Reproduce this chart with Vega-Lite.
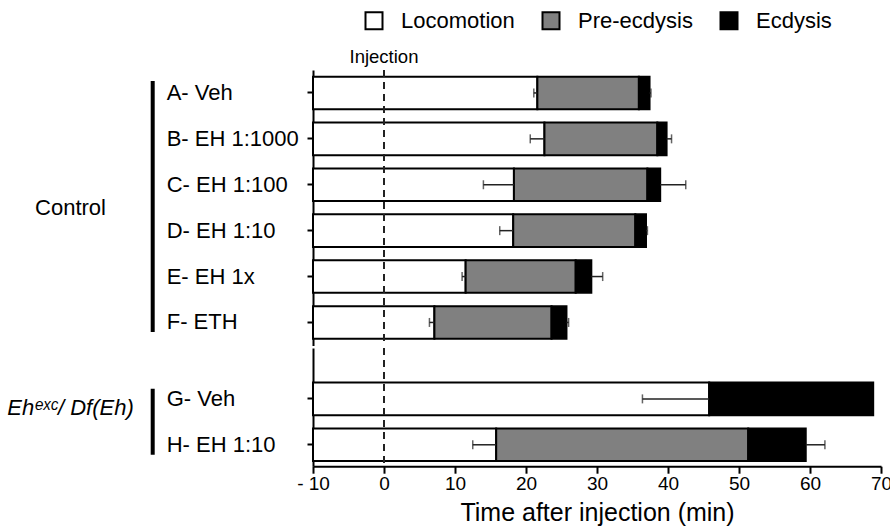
{
  "$schema": "https://vega.github.io/schema/vega-lite/v6.json",
  "background": "white",
  "padding": {"left": 6, "top": 9, "right": 0, "bottom": 0},
  "config": {
    "font": "Liberation Sans",
    "view": {"stroke": null},
    "axis": {"domainColor": "black", "tickColor": "black", "labelColor": "black", "titleColor": "black", "grid": false, "titleFontWeight": "normal"}
  },
  "datasets": {
    "segments": [
      {"group": "Control", "row": "A- Veh", "phase": "Locomotion", "start": -10, "end": 21.6},
      {"group": "Control", "row": "A- Veh", "phase": "Pre-ecdysis", "start": 21.6, "end": 35.9},
      {"group": "Control", "row": "A- Veh", "phase": "Ecdysis", "start": 35.9, "end": 37.4},
      {"group": "Control", "row": "B- EH 1:1000", "phase": "Locomotion", "start": -10, "end": 22.6},
      {"group": "Control", "row": "B- EH 1:1000", "phase": "Pre-ecdysis", "start": 22.6, "end": 38.5},
      {"group": "Control", "row": "B- EH 1:1000", "phase": "Ecdysis", "start": 38.5, "end": 39.8},
      {"group": "Control", "row": "C- EH 1:100", "phase": "Locomotion", "start": -10, "end": 18.3},
      {"group": "Control", "row": "C- EH 1:100", "phase": "Pre-ecdysis", "start": 18.3, "end": 37.1},
      {"group": "Control", "row": "C- EH 1:100", "phase": "Ecdysis", "start": 37.1, "end": 38.9},
      {"group": "Control", "row": "D- EH 1:10", "phase": "Locomotion", "start": -10, "end": 18.2},
      {"group": "Control", "row": "D- EH 1:10", "phase": "Pre-ecdysis", "start": 18.2, "end": 35.4},
      {"group": "Control", "row": "D- EH 1:10", "phase": "Ecdysis", "start": 35.4, "end": 36.9},
      {"group": "Control", "row": "E- EH 1x", "phase": "Locomotion", "start": -10, "end": 11.5},
      {"group": "Control", "row": "E- EH 1x", "phase": "Pre-ecdysis", "start": 11.5, "end": 27.0},
      {"group": "Control", "row": "E- EH 1x", "phase": "Ecdysis", "start": 27.0, "end": 29.2},
      {"group": "Control", "row": "F- ETH", "phase": "Locomotion", "start": -10, "end": 7.1},
      {"group": "Control", "row": "F- ETH", "phase": "Pre-ecdysis", "start": 7.1, "end": 23.6},
      {"group": "Control", "row": "F- ETH", "phase": "Ecdysis", "start": 23.6, "end": 25.7},
      {"group": "Eh", "row": "G- Veh", "phase": "Locomotion", "start": -10, "end": 45.8},
      {"group": "Eh", "row": "G- Veh", "phase": "Ecdysis", "start": 45.8, "end": 68.9},
      {"group": "Eh", "row": "H- EH 1:10", "phase": "Locomotion", "start": -10, "end": 15.8},
      {"group": "Eh", "row": "H- EH 1:10", "phase": "Pre-ecdysis", "start": 15.8, "end": 51.3},
      {"group": "Eh", "row": "H- EH 1:10", "phase": "Ecdysis", "start": 51.3, "end": 59.4}
    ],
    "errors": [
      {"group": "Control", "row": "A- Veh", "mean": 21.6, "tip": 21.1},
      {"group": "Control", "row": "A- Veh", "mean": 37.4, "tip": 37.6},
      {"group": "Control", "row": "B- EH 1:1000", "mean": 22.6, "tip": 20.6},
      {"group": "Control", "row": "B- EH 1:1000", "mean": 39.8, "tip": 40.5},
      {"group": "Control", "row": "C- EH 1:100", "mean": 18.3, "tip": 14.0},
      {"group": "Control", "row": "C- EH 1:100", "mean": 38.9, "tip": 42.5},
      {"group": "Control", "row": "D- EH 1:10", "mean": 18.2, "tip": 16.3},
      {"group": "Control", "row": "D- EH 1:10", "mean": 36.9, "tip": 37.1},
      {"group": "Control", "row": "E- EH 1x", "mean": 11.5, "tip": 11.0},
      {"group": "Control", "row": "E- EH 1x", "mean": 29.2, "tip": 30.8},
      {"group": "Control", "row": "F- ETH", "mean": 7.1, "tip": 6.4},
      {"group": "Control", "row": "F- ETH", "mean": 25.7, "tip": 26.0},
      {"group": "Eh", "row": "G- Veh", "mean": 45.8, "tip": 36.4},
      {"group": "Eh", "row": "H- EH 1:10", "mean": 15.8, "tip": 12.5},
      {"group": "Eh", "row": "H- EH 1:10", "mean": 59.4, "tip": 62.1}
    ]
  },
  "spacing": 0,
  "resolve": {"scale": {"x": "shared", "color": "shared"}},
  "vconcat": [
    {
      "width": 568,
      "height": 275.4,
      "resolve": {"axis": {"y": "independent"}},
      "layer": [
        {
          "data": {"name": "segments"},
          "transform": [{"filter": "datum.group === 'Control'"}],
          "mark": {"type": "bar", "stroke": "black", "strokeWidth": 2},
          "encoding": {
            "y": {"field": "row", "type": "nominal", "sort": ["A- Veh", "B- EH 1:1000", "C- EH 1:100", "D- EH 1:10", "E- EH 1x", "F- ETH"],
              "scale": {"paddingInner": 0.29, "paddingOuter": 0.145},
              "axis": {"title": null, "labelAlign": "left", "labelBaseline": "middle", "labelPadding": 140.8, "labelFontSize": 22, "tickSize": 6, "tickWidth": 2, "domainWidth": 2}},
            "x": {"field": "start", "type": "quantitative", "scale": {"domain": [-10, 70], "nice": false, "zero": false}, "axis": null},
            "x2": {"field": "end"},
            "color": {"field": "phase", "type": "nominal",
              "scale": {"domain": ["Locomotion", "Pre-ecdysis", "Ecdysis"], "range": ["#ffffff", "#808080", "#000000"]},
              "legend": {"orient": "none", "legendX": 50, "legendY": -60.4, "direction": "horizontal", "title": null,
                "symbolType": "square", "symbolSize": 289, "symbolStrokeColor": "black", "symbolStrokeWidth": 2,
                "labelFontSize": 22, "labelOffset": 16, "columnPadding": 23, "labelColor": "black"}}
          }
        },
        {
          "data": {"name": "errors"},
          "transform": [{"filter": "datum.group === 'Control'"}],
          "mark": {"type": "rule", "color": "#222222", "strokeWidth": 1.5},
          "encoding": {
            "y": {"field": "row", "type": "nominal", "axis": null},
            "x": {"field": "mean", "type": "quantitative"},
            "x2": {"field": "tip"}
          }
        },
        {
          "data": {"name": "errors"},
          "transform": [{"filter": "datum.group === 'Control'"}],
          "mark": {"type": "tick", "color": "#222222", "thickness": 1.5, "size": 9},
          "encoding": {
            "y": {"field": "row", "type": "nominal", "axis": null},
            "x": {"field": "tip", "type": "quantitative"}
          }
        },
        {
          "data": {"values": [{}]},
          "mark": {"type": "rule", "strokeDash": [7, 5], "strokeWidth": 2, "color": "#222222"},
          "encoding": {"x": {"datum": 0, "type": "quantitative"}}
        },
        {
          "data": {"values": [{"label": "Injection"}]},
          "mark": {"type": "text", "fontSize": 18.5, "align": "center", "baseline": "middle", "dy": -36, "color": "black"},
          "encoding": {
            "x": {"datum": 0, "type": "quantitative"},
            "y": {"datum": "A- Veh", "type": "nominal", "axis": null},
            "text": {"field": "label"}
          }
        },
        {
          "data": {"name": "segments"},
          "transform": [{"filter": "datum.group === 'Control'"}],
          "mark": {"type": "point", "opacity": 0},
          "encoding": {
            "y": {"field": "row", "type": "nominal",
              "axis": {"orient": "left", "offset": 160.8, "ticks": false, "labels": false, "domainWidth": 4, "domainDash": [0, 10.6, 251, 1000],
                "title": "Control", "titleAngle": 0, "titleAlign": "center", "titleBaseline": "middle", "titlePadding": 82.2, "titleFontSize": 22}}
          }
        }
      ]
    },
    {
      "width": 568,
      "height": 118.2,
      "resolve": {"axis": {"y": "independent"}},
      "layer": [
        {
          "data": {"name": "segments"},
          "transform": [{"filter": "datum.group === 'Eh'"}],
          "mark": {"type": "bar", "stroke": "black", "strokeWidth": 2},
          "encoding": {
            "y": {"field": "row", "type": "nominal", "sort": ["G- Veh", "H- EH 1:10"],
              "scale": {"paddingInner": 0.29, "paddingOuter": 0.4326, "align": 0.871},
              "axis": {"title": null, "labelAlign": "left", "labelBaseline": "middle", "labelPadding": 140.8, "labelFontSize": 22, "tickSize": 6, "tickWidth": 2, "domainWidth": 2}},
            "x": {"field": "start", "type": "quantitative", "scale": {"domain": [-10, 70], "nice": false, "zero": false},
              "axis": {"values": [-10, 0, 10, 20, 30, 40, 50, 60, 70], "labelExpr": "datum.value < 0 ? '- ' + abs(datum.value) : datum.label",
                "labelFontSize": 19, "tickSize": 7, "tickWidth": 2, "domainWidth": 2, "labelPadding": 1, "labelFlush": false, "labelOverlap": false,
                "title": "Time after injection (min)", "titleFontSize": 25, "titlePadding": 7}},
            "x2": {"field": "end"},
            "color": {"field": "phase", "type": "nominal",
              "scale": {"domain": ["Locomotion", "Pre-ecdysis", "Ecdysis"], "range": ["#ffffff", "#808080", "#000000"]}}
          }
        },
        {
          "data": {"name": "errors"},
          "transform": [{"filter": "datum.group === 'Eh'"}],
          "mark": {"type": "rule", "color": "#222222", "strokeWidth": 1.5},
          "encoding": {
            "y": {"field": "row", "type": "nominal", "axis": null},
            "x": {"field": "mean", "type": "quantitative"},
            "x2": {"field": "tip"}
          }
        },
        {
          "data": {"name": "errors"},
          "transform": [{"filter": "datum.group === 'Eh'"}],
          "mark": {"type": "tick", "color": "#222222", "thickness": 1.5, "size": 9},
          "encoding": {
            "y": {"field": "row", "type": "nominal", "axis": null},
            "x": {"field": "tip", "type": "quantitative"}
          }
        },
        {
          "data": {"values": [{}]},
          "mark": {"type": "rule", "strokeDash": [7, 5], "strokeWidth": 2, "color": "#222222"},
          "encoding": {"x": {"datum": 0, "type": "quantitative"}}
        },
        {
          "data": {"name": "segments"},
          "transform": [{"filter": "datum.group === 'Eh'"}],
          "mark": {"type": "point", "opacity": 0},
          "encoding": {
            "y": {"field": "row", "type": "nominal",
              "axis": {"orient": "left", "offset": 160.8, "ticks": false, "labels": false, "domainWidth": 4, "domainDash": [0, 40.2, 66, 1000],
                "title": "Ehᵉˣᶜ/ Df(Eh)", "titleFontStyle": "italic", "titleAngle": 0, "titleAlign": "center", "titleBaseline": "middle", "titlePadding": 82.2, "titleFontSize": 22}}
          }
        }
      ]
    }
  ]
}
